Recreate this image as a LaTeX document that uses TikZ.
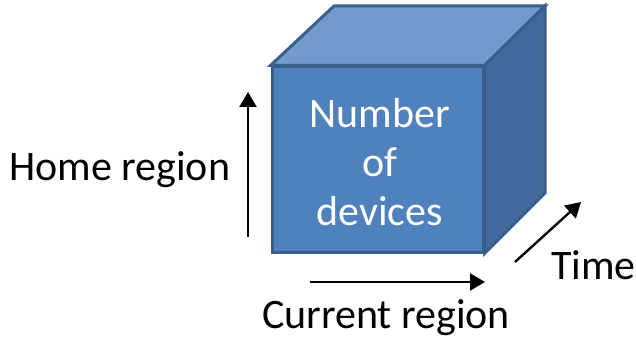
\documentclass[tikz,border=0pt]{standalone}
\usepackage{fontspec}
\setmainfont{Carlito}
\usetikzlibrary{arrows.meta}

\definecolor{frontblue}{HTML}{4F81BD}
\definecolor{topblue}{HTML}{729ACD}
\definecolor{sideblue}{HTML}{41699B}
\definecolor{edgeblue}{HTML}{3A5F8C}

\tikzset{
  face/.style={draw=edgeblue, line width=3pt, line join=miter},
  axis/.style={line width=2.4pt, -{Triangle[length=15pt,width=17pt]}},
  lbl/.style={font=\fontsize{42}{49}\selectfont, inner sep=0pt}
}

\begin{document}
\begin{tikzpicture}[x=1pt,y=-1pt]
\useasboundingbox (0,0) rectangle (636,339);

% front face with its text
\draw (377.5,159.5) node (front) [face, fill=frontblue, minimum width=211pt, minimum height=185pt,
      label={[lbl, text=white, align=center, yshift=-3pt, xshift=2pt]center:Number\\of\\devices}] {};

% top and side faces
\coordinate (tl) at (334,6);
\coordinate (tr) at (545,6);
\coordinate (br) at (545,193);
\draw[face, fill=topblue]  (front.north west) -- (tl) -- (tr) -- (front.north east) -- cycle;
\draw[face, fill=sideblue] (front.north east) -- (tr) -- (br) -- (front.south east) -- cycle;

% axes
\coordinate (h0) at (248,237);
\coordinate (h1) at (248,92);
\draw[axis] (h0) -- (h1);
\draw (9,180) node (home) [lbl, anchor=base west] {Home region};

\coordinate (c0) at (310,282);
\coordinate (c1) at (485,282);
\draw[axis] (c0) -- (c1);
\draw (386,328) node (current) [lbl, anchor=base] {Current region};

\coordinate (t0) at (515,262);
\coordinate (t1) at (581,202);
\draw[axis] (t0) -- (t1);
\draw (551,279) node (time) [lbl, anchor=base west] {Time};
\end{tikzpicture}
\end{document}
